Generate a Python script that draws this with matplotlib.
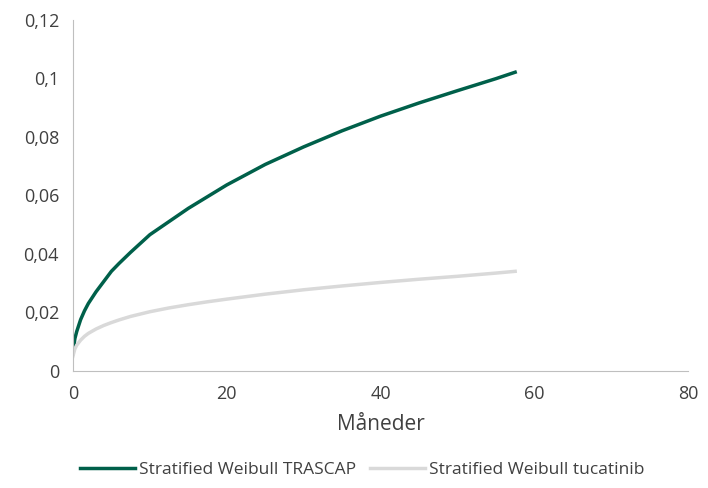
import matplotlib.pyplot as plt
from matplotlib.ticker import FuncFormatter

plt.rcParams['font.family'] = ['Open Sans', 'DejaVu Sans']

maaneder = [0, 0.25, 0.5, 1, 1.5, 2, 3, 4, 5, 6, 7.5, 10, 12.5, 15, 17.5, 20, 25, 30, 35, 40, 45, 50, 55, 57.5]
trascap = [0.006, 0.011, 0.0135, 0.0175, 0.0205, 0.023, 0.027, 0.0305, 0.034, 0.0367, 0.0405, 0.0465,
           0.051, 0.0555, 0.0595, 0.0635, 0.0705, 0.0765, 0.082, 0.087, 0.0915, 0.0957, 0.0998, 0.102]
tucatinib = [0.005, 0.0075, 0.0088, 0.0105, 0.0118, 0.0128, 0.0143, 0.0155, 0.0165, 0.0174, 0.0186,
             0.0202, 0.0215, 0.0226, 0.0236, 0.0245, 0.0262, 0.0277, 0.029, 0.0302, 0.0313, 0.0323,
             0.0334, 0.0340]

fig, ax = plt.subplots(figsize=(7.08, 4.88), dpi=100)
fig.subplots_adjust(left=0.103, right=0.972, top=0.96, bottom=0.24)
ax.plot(maaneder, trascap, color='#00604a', lw=2.5, label='Stratified Weibull TRASCAP')
ax.plot(maaneder, tucatinib, color='#d9d9d9', lw=2.5, label='Stratified Weibull tucatinib')

ax.set_xlim(0, 80)
ax.set_ylim(0, 0.12)
ax.set_xticks(range(0, 81, 20))
ax.set_yticks([0, 0.02, 0.04, 0.06, 0.08, 0.1, 0.12])
ax.yaxis.set_major_formatter(FuncFormatter(lambda v, p: '0' if v == 0 else ('%g' % round(v, 2)).replace('.', ',')))
for s in ['top', 'right']:
    ax.spines[s].set_visible(False)
for s in ['left', 'bottom']:
    ax.spines[s].set_color('#bfbfbf')
ax.tick_params(length=0, labelsize=13, colors='#404040', pad=10)
ax.set_xlabel('Måneder', fontsize=15, color='#404040', labelpad=8)
ax.legend(loc='upper center', bbox_to_anchor=(0.47, -0.215), ncol=2, frameon=False,
          fontsize=12.5, labelcolor='#404040', handlelength=3.2, columnspacing=0.8, handletextpad=0.2)
fig.savefig('out.png')
